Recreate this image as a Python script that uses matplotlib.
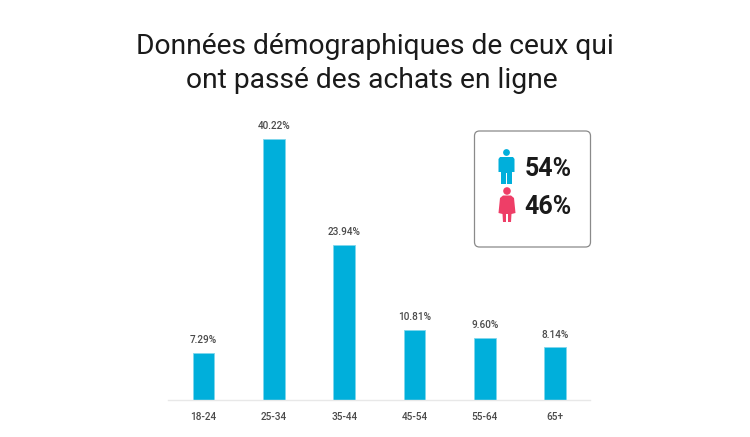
import matplotlib
matplotlib.use("Agg")
import matplotlib.pyplot as plt
from matplotlib.patches import FancyBboxPatch, Circle, Rectangle, Polygon

categories = ["18-24", "25-34", "35-44", "45-54", "55-64", "65+"]
values = [7.29, 40.22, 23.94, 10.81, 9.60, 8.14]
value_labels = ["7.29%", "40.22%", "23.94%", "10.81%", "9.60%", "8.14%"]
title_lines = ["Données démographiques de ceux qui", "ont passé des achats en ligne"]
male_share = "54%"
female_share = "46%"

W, H = 750, 437
BLUE = "#00afdb"
PINK = "#ee3e67"
DARK = "#1a1a1a"
GREY = "#4a4a4a"
plt.rcParams["font.family"] = ["Roboto", "DejaVu Sans"]

fig = plt.figure(figsize=(W / 100, H / 100), dpi=100, facecolor="white")

ax = fig.add_axes([168 / W, (H - 400) / H, 422 / W, 270 / H])
ax.bar(range(len(values)), values, width=0.31, color=BLUE, edgecolor="#7fd7ed", linewidth=0.6, zorder=2)
ax.set_xlim(-0.505, 5.495)
ax.set_ylim(0, 270 / 6.49)
for s in ["top", "left", "right"]:
    ax.spines[s].set_visible(False)
ax.spines["bottom"].set_color("#e8e8e8")
ax.spines["bottom"].set_linewidth(1)
ax.set_yticks([])
ax.set_xticks(range(len(categories)))
ax.set_xticklabels(categories, fontsize=7.2, color=GREY, fontweight="medium")
ax.tick_params(axis="x", length=0, pad=9)
for i, (v, t) in enumerate(zip(values, value_labels)):
    ax.annotate(t, (i, v), xytext=(0, 5.5), textcoords="offset points", ha="center", va="bottom",
                fontsize=7.2, color=GREY, fontweight="medium", annotation_clip=False)

# overlay in pixel coordinates
ov = fig.add_axes([0, 0, 1, 1], facecolor="none")
ov.set_xlim(0, W)
ov.set_ylim(H, 0)
ov.axis("off")

ov.text(375, 47, title_lines[0], ha="center", va="center", fontsize=20.3, color=DARK)
ov.text(371.5, 81, title_lines[1], ha="center", va="center", fontsize=20.3, color=DARK)

ov.add_patch(FancyBboxPatch((474.5, 131), 116, 116, boxstyle="round,pad=0,rounding_size=5",
                            fc="white", ec="#8a8a8a", lw=0.9))

# man icon
ov.add_patch(Circle((506.5, 152.5), 3.4, color=BLUE, lw=0))
ov.add_patch(Polygon([(500, 157), (513, 157), (514.5, 159), (514.5, 172), (512, 172), (512, 184),
                      (507, 184), (507, 173), (506, 173), (506, 184), (501, 184), (501, 172),
                      (498.5, 172), (498.5, 159)], closed=True, color=BLUE, lw=0))
# woman icon
ov.add_patch(Circle((507, 191), 3.8, color=PINK, lw=0))
ov.add_patch(Polygon([(503, 195.5), (511, 195.5), (514, 198), (515.5, 213), (511.5, 214), (511, 222),
                      (508, 222), (508, 214), (506, 214), (506, 222), (503, 222), (502.5, 214),
                      (498.5, 213), (500, 198)], closed=True, color=PINK, lw=0))

ov.text(525, 169, male_share, ha="left", va="center", fontsize=18, fontweight="bold", color=DARK)
ov.text(524, 207, female_share, ha="left", va="center", fontsize=18, fontweight="bold", color=DARK)

fig.savefig("out.png", dpi=100, facecolor="white")
